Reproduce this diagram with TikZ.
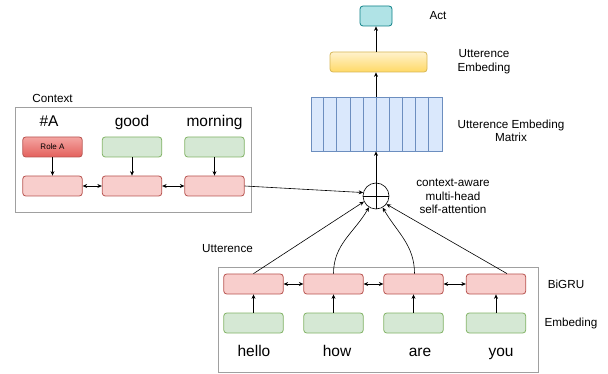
\documentclass[tikz,border=0pt]{standalone}
\usepackage{fontspec}
\setmainfont{Liberation Sans}
\usetikzlibrary{arrows.meta,calc}

\definecolor{redfill}{HTML}{F8CECC}
\definecolor{reddraw}{HTML}{B85450}
\definecolor{greenfill}{HTML}{D5E8D4}
\definecolor{greendraw}{HTML}{82B366}
\definecolor{bluefill}{HTML}{DAE8FC}
\definecolor{bluedraw}{HTML}{6C8EBF}
\definecolor{yellowtop}{HTML}{FFF2CC}
\definecolor{yellowbot}{HTML}{FFD966}
\definecolor{yellowdraw}{HTML}{D6B656}
\definecolor{actfill}{HTML}{B0E3E6}
\definecolor{actdraw}{HTML}{0E8088}
\definecolor{roletop}{HTML}{F4A5A2}
\definecolor{rolebot}{HTML}{E3605C}
\definecolor{framegray}{HTML}{A0A0A0}

\tikzset{
  cell/.style={rectangle, rounded corners=3pt, line width=0.8pt,
    minimum width=59.5pt, minimum height=20pt, inner sep=0pt},
  rnnbox/.style={cell, draw=reddraw, fill=redfill},
  embbox/.style={cell, draw=greendraw, fill=greenfill},
  rolebox/.style={cell, draw=reddraw, top color=roletop, bottom color=rolebot,
    font=\fontsize{8}{9}\selectfont},
  frame/.style={draw=framegray, line width=0.8pt},
  word/.style={anchor=base, inner sep=0pt, font=\fontsize{15.5}{18}\selectfont},
  lbl/.style={inner sep=0pt, align=center, font=\fontsize{11.7}{13.6}\selectfont},
  arr/.style={-{Stealth[length=4.5pt,width=4pt]}, line width=0.6pt},
  biarr/.style={{Stealth[length=4.5pt,width=4pt]}-{Stealth[length=4.5pt,width=4pt]}, line width=0.6pt},
}

\begin{document}
\begin{tikzpicture}[x=1pt,y=-1pt]
\useasboundingbox (0,0) rectangle (608,374);

% containers
\draw[frame] (15,107) rectangle (251,212);
\draw[frame] (218,267) rectangle (538,372);
\node[lbl] (ctxlbl) at (52.5,98) {Context};
\node[lbl] (utlbl) at (227.5,249) {Utterence};

% context words and cells
\node[word] (wA) at (49,127) {\#A};
\node[word] (wgood) at (132,127) {good};
\node[word] (wmorning) at (214.5,127) {morning};

\node[rolebox] (role) at (52.5,147) {Role A};
\node[embbox] (cg2) at (132,147) {};
\node[embbox] (cg3) at (214.5,147) {};
\node[rnnbox] (cr1) at (52.5,186) {};
\node[rnnbox] (cr2) at (132,186) {};
\node[rnnbox] (cr3) at (214.5,186) {};

\draw[arr] (role) -- (cr1);
\draw[arr] (cg2) -- (cr2);
\draw[arr] (cg3) -- (cr3);
\draw[biarr] (cr1) -- (cr2);
\draw[biarr] (cr2) -- (cr3);

% utterance cells
\node[rnnbox] (u1) at (253.5,284) {};
\node[rnnbox] (u2) at (333.5,284) {};
\node[rnnbox] (u3) at (413.5,284) {};
\node[rnnbox] (u4) at (496,284) {};
\node[embbox] (e1) at (253.5,323) {};
\node[embbox] (e2) at (333.5,323) {};
\node[embbox] (e3) at (413.5,323) {};
\node[embbox] (e4) at (496,323) {};

\node[word] (whello) at (254,356) {hello};
\node[word] (whow) at (337,356) {how};
\node[word] (ware) at (420,356) {are};
\node[word] (wyou) at (501,356) {you};

\foreach \i in {1,...,4} { \draw[arr] (e\i) -- (u\i); }
\draw[biarr] (u1) -- (u2);
\draw[biarr] (u2) -- (u3);
\draw[biarr] (u3) -- (u4);

\node[lbl] (bigru) at (566,284) {BiGRU};
\node[lbl] (emblbl) at (571,323) {Embeding};

% attention operator
\node[circle, draw, line width=0.6pt, minimum size=26pt, inner sep=0pt] (att) at (376,196) {};
\draw[line width=0.6pt] (att.west) -- (att.east);
\draw[line width=0.6pt] (att.north) -- (att.south);
\node[lbl] (attlbl) at (453,196.5) {context-aware\\multi-head\\self-attention};

\draw[arr] (cr3.east) -- (att.165);
\draw[arr] (u1.north) -- (att.205);
\draw[arr] (u2.north) to[out=90,in=240] (att.238);
\draw[arr] ([xshift=1pt]u3.north) to[out=90,in=300] (att.300);
\draw[arr] ([xshift=11pt]u4.north) -- (att.322);

% embedding matrix
\node[rectangle, draw=bluedraw, fill=bluefill, line width=0.8pt,
  minimum width=131pt, minimum height=54pt, inner sep=0pt] (mat) at (376.5,124) {};
\foreach \k in {1,...,9} {
  \draw[bluedraw, line width=0.8pt] ($(mat.north west)+(13.1*\k,0)$) -- ($(mat.south west)+(13.1*\k,0)$);
}
\node[lbl] (matlbl) at (511,131) {Utterence Embeding\\Matrix};

% utterance embedding and act
\node[rectangle, rounded corners=3pt, draw=yellowdraw, top color=yellowtop, bottom color=yellowbot,
  line width=0.8pt, minimum width=97pt, minimum height=20pt, inner sep=0pt] (uemb) at (378.5,62) {};
\node[lbl] (uemblbl) at (484,61.5) {Utterence\\Embeding};
\node[rectangle, rounded corners=3pt, draw=actdraw, fill=actfill,
  line width=0.8pt, minimum width=32pt, minimum height=20pt, inner sep=0pt] (act) at (376,16) {};
\node[lbl] (actlbl) at (438,16) {Act};

\draw[arr] (att.north) -- (mat.south -| att.north);
\draw[arr] (mat.north -| att.north) -- (uemb.south -| att.north);
\draw[arr] (uemb.north -| att.north) -- (act.south -| att.north);
\end{tikzpicture}
\end{document}
